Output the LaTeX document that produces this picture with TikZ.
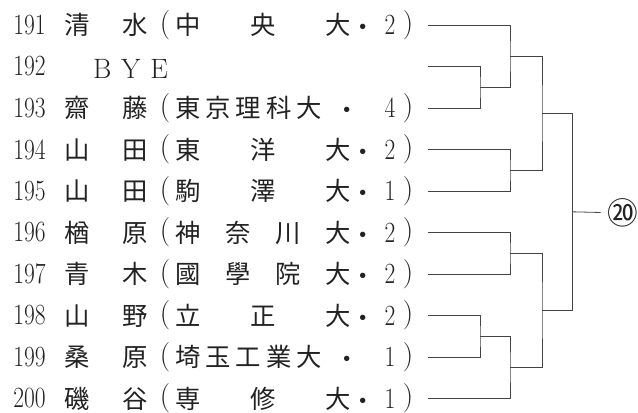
\documentclass[tikz,border=0pt]{standalone}
\usepackage{fontspec}
\newfontfamily\jp{Noto Sans CJK JP}
\newcommand{\tallnum}[1]{\scalebox{0.8}[1]{#1}}

\begin{document}
\begin{tikzpicture}[x=0.75pt,y=0.75pt,yscale=-1,xscale=1,
  kanji/.style={font=\jp\fontsize{19}{19}\selectfont,inner sep=0pt,text height=16.7pt,text depth=2.3pt,color={rgb, 255:red, 34; green, 34; blue, 34}},
  nakaguro/.style={kanji,yshift=-1.5pt},
  rownum/.style={font=\fontsize{22}{22}\selectfont,inner sep=0pt,color={rgb, 255:red, 34; green, 34; blue, 34}},
  paren/.style={font=\fontsize{22}{22}\selectfont,inner sep=0pt,color={rgb, 255:red, 34; green, 34; blue, 34}},
  bracket/.style={draw={rgb, 255:red, 68; green, 68; blue, 68},line width=0.6pt}]
\useasboundingbox (0,0) rectangle (638,412);

% Text Node 191
\draw (29.5,25) node (n191) [rownum] {\tallnum{191}};
\draw (106,25) node (s191) [kanji] {\makebox[62.5pt][s]{清\hfill 水}};
\draw (165,25) node (o191) [paren] {(};
\draw (263,25) node (u191) [kanji] {\makebox[131.5pt][s]{中\hfill 央\hfill 大}};
\draw (363,25) node (d191) [nakaguro] {・};
\draw (390,25) node (g191) [rownum] {\tallnum{2}};
\draw (408,25) node (c191) [paren] {)};
% Text Node 192
\draw (29.5,66.5) node (n192) [rownum] {\tallnum{192}};
\draw (130.5,69) node (s192) [inner sep=0pt,font=\fontsize{21}{21}\selectfont,color={rgb, 255:red, 34; green, 34; blue, 34}] {\makebox[56.25pt][s]{B\hfill Y\hfill E}};
% Text Node 193
\draw (29.5,108) node (n193) [rownum] {\tallnum{193}};
\draw (106,108) node (s193) [kanji] {\makebox[62.5pt][s]{齋\hfill 藤}};
\draw (165,108) node (o193) [paren] {(};
\draw (248.5,108) node (u193) [kanji] {\makebox[109.75pt][s]{東\hfill 京\hfill 理\hfill 科\hfill 大}};
\draw (347,108) node (d193) [nakaguro] {・};
\draw (390,108) node (g193) [rownum] {\tallnum{4}};
\draw (408,108) node (c193) [paren] {)};
% Text Node 194
\draw (29.5,149.5) node (n194) [rownum] {\tallnum{194}};
\draw (106,149.5) node (s194) [kanji] {\makebox[62.5pt][s]{山\hfill 田}};
\draw (165,149.5) node (o194) [paren] {(};
\draw (263,149.5) node (u194) [kanji] {\makebox[131.5pt][s]{東\hfill 洋\hfill 大}};
\draw (363,149.5) node (d194) [nakaguro] {・};
\draw (390,149.5) node (g194) [rownum] {\tallnum{2}};
\draw (408,149.5) node (c194) [paren] {)};
% Text Node 195
\draw (29.5,191) node (n195) [rownum] {\tallnum{195}};
\draw (106,191) node (s195) [kanji] {\makebox[62.5pt][s]{山\hfill 田}};
\draw (165,191) node (o195) [paren] {(};
\draw (263,191) node (u195) [kanji] {\makebox[131.5pt][s]{駒\hfill 澤\hfill 大}};
\draw (363,191) node (d195) [nakaguro] {・};
\draw (390,191) node (g195) [rownum] {\tallnum{1}};
\draw (408,191) node (c195) [paren] {)};
% Text Node 196
\draw (29.5,232.5) node (n196) [rownum] {\tallnum{196}};
\draw (106,232.5) node (s196) [kanji] {\makebox[62.5pt][s]{楢\hfill 原}};
\draw (165,232.5) node (o196) [paren] {(};
\draw (263,232.5) node (u196) [kanji] {\makebox[131.5pt][s]{神\hfill 奈\hfill 川\hfill 大}};
\draw (363,232.5) node (d196) [nakaguro] {・};
\draw (390,232.5) node (g196) [rownum] {\tallnum{2}};
\draw (408,232.5) node (c196) [paren] {)};
% Text Node 197
\draw (29.5,274) node (n197) [rownum] {\tallnum{197}};
\draw (106,274) node (s197) [kanji] {\makebox[62.5pt][s]{青\hfill 木}};
\draw (165,274) node (o197) [paren] {(};
\draw (263,274) node (u197) [kanji] {\makebox[131.5pt][s]{國\hfill 學\hfill 院\hfill 大}};
\draw (363,274) node (d197) [nakaguro] {・};
\draw (390,274) node (g197) [rownum] {\tallnum{2}};
\draw (408,274) node (c197) [paren] {)};
% Text Node 198
\draw (29.5,315.5) node (n198) [rownum] {\tallnum{198}};
\draw (106,315.5) node (s198) [kanji] {\makebox[62.5pt][s]{山\hfill 野}};
\draw (165,315.5) node (o198) [paren] {(};
\draw (263,315.5) node (u198) [kanji] {\makebox[131.5pt][s]{立\hfill 正\hfill 大}};
\draw (363,315.5) node (d198) [nakaguro] {・};
\draw (390,315.5) node (g198) [rownum] {\tallnum{2}};
\draw (408,315.5) node (c198) [paren] {)};
% Text Node 199
\draw (29.5,357) node (n199) [rownum] {\tallnum{199}};
\draw (106,357) node (s199) [kanji] {\makebox[62.5pt][s]{桑\hfill 原}};
\draw (165,357) node (o199) [paren] {(};
\draw (248.5,357) node (u199) [kanji] {\makebox[109.75pt][s]{埼\hfill 玉\hfill 工\hfill 業\hfill 大}};
\draw (347,357) node (d199) [nakaguro] {・};
\draw (390,357) node (g199) [rownum] {\tallnum{1}};
\draw (408,357) node (c199) [paren] {)};
% Text Node 200
\draw (29.5,398.5) node (n200) [rownum] {\tallnum{200}};
\draw (106,398.5) node (s200) [kanji] {\makebox[62.5pt][s]{磯\hfill 谷}};
\draw (165,398.5) node (o200) [paren] {(};
\draw (263,398.5) node (u200) [kanji] {\makebox[131.5pt][s]{専\hfill 修\hfill 大}};
\draw (363,398.5) node (d200) [nakaguro] {・};
\draw (390,398.5) node (g200) [rownum] {\tallnum{1}};
\draw (408,398.5) node (c200) [paren] {)};
% Text Node winner
\draw (623,213) node (w20) [inner sep=5pt,font=\jp\fontsize{23}{23}\selectfont,color={rgb, 255:red, 34; green, 34; blue, 34}] {⑳};

% line ends and joins
\coordinate (e191) at (428,25);
\coordinate (e192) at (428,66.5);
\coordinate (e193) at (428,108);
\coordinate (e194) at (428,149.5);
\coordinate (e195) at (428,191);
\coordinate (e196) at (428,232.5);
\coordinate (e197) at (428,274);
\coordinate (e198) at (428,315.5);
\coordinate (e199) at (428,357);
\coordinate (e200) at (428,398.5);
\coordinate (m1) at (480,87.25);
\coordinate (m2) at (510,56.1);
\coordinate (m3) at (510,170.25);
\coordinate (m4) at (542,113.2);
\coordinate (m5) at (510,253.25);
\coordinate (m6) at (480,336.25);
\coordinate (m7) at (510,367.4);
\coordinate (m8) at (542,310.3);
\coordinate (m9) at (572,211.8);

%Straight Lines
\draw [bracket] (e192) -| (m1) |- (e193);
\draw [bracket] (e191) -| (m2) |- (m1);
\draw [bracket] (e194) -| (m3) |- (e195);
\draw [bracket] (m2) -| (m4) |- (m3);
\draw [bracket] (e196) -| (m5) |- (e197);
\draw [bracket] (e198) -| (m6) |- (e199);
\draw [bracket] (m6) -| (m7) |- (e200);
\draw [bracket] (m5) -| (m8) |- (m7);
\draw [bracket] (m4) -| (m9) |- (m8);
\draw [bracket] (m9) -- (w20);

\end{tikzpicture}
\end{document}
